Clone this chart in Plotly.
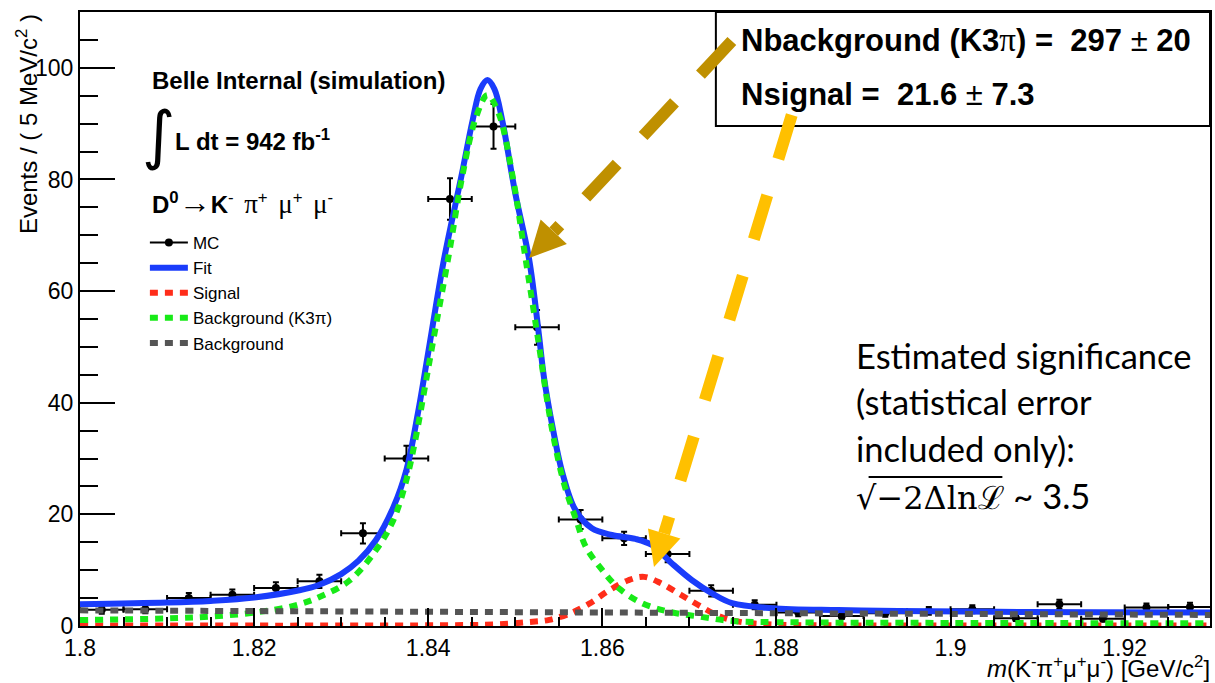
import math
import plotly.graph_objects as go

# ---------------- data ----------------
mass_bins = [1.8025, 1.8075, 1.8125, 1.8175, 1.8225, 1.8275, 1.8325, 1.8375, 1.8425, 1.8475,
             1.8525, 1.8575, 1.8625, 1.8675, 1.8725, 1.8775, 1.8825, 1.8875, 1.8925, 1.8975,
             1.9025, 1.9075, 1.9125, 1.9175, 1.9225, 1.9275]
mc_events = [2.9, 3.0, 5.0, 5.6, 6.8, 8.0, 16.6, 30.0, 76.5, 89.5,
             53.5, 19.1, 15.7, 12.9, 6.3, 3.8, 2.4, 1.8, 2.3, 2.7,
             3.0, 1.4, 3.9, 1.3, 3.3, 3.4]
mc_errors = [0.7, 0.7, 0.9, 0.95, 1.05, 1.2, 1.8, 2.3, 3.7, 4.0,
             3.1, 1.7, 1.2, 1.5, 1.0, 0.8, 0.65, 0.55, 0.65, 0.7,
             0.7, 0.5, 0.8, 0.5, 0.75, 0.75]
bin_half_width = 0.0025

fit_x = [1.800, 1.810, 1.815, 1.820, 1.8252, 1.8275, 1.8300, 1.8320, 1.8340, 1.8360, 1.8375, 1.8388,
         1.8400, 1.8418, 1.8438, 1.8451, 1.8460, 1.8468, 1.8476, 1.8485, 1.8500, 1.8516, 1.8527,
         1.8533, 1.8543, 1.8554, 1.8569, 1.8588, 1.8611, 1.8638, 1.8657, 1.8680, 1.8703, 1.8726,
         1.8749, 1.8795, 1.8871, 1.8940, 1.9054, 1.9169, 1.9300]
fit_y = [3.9, 4.2, 4.5, 5.1, 6.4, 7.4, 9.3, 11.7, 15.4, 21.3, 28.0, 38.0,
         49.0, 65.6, 80.5, 90.6, 96.2, 97.8, 96.2, 90.6, 77.5, 65.6, 52.4,
         44.5, 35.5, 27.5, 20.8, 17.5, 16.3, 15.6, 14.5, 11.2, 8.2, 5.85,
         4.1, 3.2, 2.85, 2.7, 2.55, 2.45, 2.4]

sig_x = [1.800, 1.840, 1.848, 1.8515, 1.8539, 1.8562, 1.8585, 1.8608, 1.8630, 1.8648, 1.8668,
         1.8690, 1.8712, 1.8735, 1.8760, 1.8800, 1.8900, 1.9300]
sig_y = [0.1, 0.12, 0.3, 0.7, 1.1, 2.2, 4.0, 6.4, 8.2, 8.8, 7.6,
         5.6, 3.6, 1.7, 0.7, 0.25, 0.1, 0.1]

k3pi_x = [1.800, 1.810, 1.815, 1.820, 1.8245, 1.8275, 1.8310, 1.8340, 1.8360, 1.8375, 1.8386, 1.8397,
          1.8405, 1.8424, 1.8439, 1.8455, 1.8468, 1.8481, 1.8497, 1.8512, 1.8527, 1.8537, 1.8545,
          1.8556, 1.8570, 1.8581, 1.8600, 1.8619, 1.8646, 1.8676, 1.8712, 1.8749, 1.8825, 1.9000, 1.9300]
k3pi_y = [1.07, 1.35, 1.7, 2.4, 3.6, 5.2, 8.2, 13.6, 19.0, 26.2, 34.0, 43.5,
          50.5, 66.8, 80.5, 91.2, 95.1, 91.8, 80.5, 65.6, 50.5, 40.0, 33.0,
          25.5, 19.0, 14.2, 10.0, 6.75, 4.07, 2.57, 1.67, 0.9, 0.66, 0.55, 0.5]

bkg_x = [1.800, 1.835, 1.871, 1.930]
bkg_y = [2.8, 2.58, 2.35, 1.98]

x_ticks = [1.80, 1.82, 1.84, 1.86, 1.88, 1.90, 1.92]
x_tick_text = ["1.8", "1.82", "1.84", "1.86", "1.88", "1.9", "1.92"]
y_ticks = [0, 20, 40, 60, 80, 100]

# ---------------- layout geometry ----------------
W, H = 1215, 683
ML, MR, MT, MB = 80, 3, 12, 57
PW, PH = W - ML - MR, H - MT - MB


def px(xp):
    return (xp - ML) / PW


def py(yp):
    return (H - MB - yp) / PH


SANS = "Liberation Sans, Arial, Helvetica, sans-serif"
BLUE = "#1a3cfb"
RED = "#ff2d1a"
GREEN = "#18ea18"
GREY = "#555555"

fig = go.Figure()

fig.add_trace(go.Scatter(
    x=mass_bins, y=mc_events, mode="markers", showlegend=False,
    marker=dict(color="black", size=8),
    error_y=dict(type="data", array=mc_errors, color="black", thickness=2, width=3),
    error_x=dict(type="constant", value=bin_half_width, color="black", thickness=2, width=3),
))
fig.add_trace(go.Scatter(
    x=[None], y=[None], mode="lines+markers", name="MC",
    line=dict(color="black", width=2), marker=dict(color="black", size=8),
))
fig.add_trace(go.Scatter(x=fit_x, y=fit_y, mode="lines", name="Fit",
                         line=dict(color=BLUE, width=6, shape="spline")))
fig.add_trace(go.Scatter(x=sig_x, y=sig_y, mode="lines", name="Signal",
                         line=dict(color=RED, width=6, dash="8px,7px", shape="spline")))
fig.add_trace(go.Scatter(x=k3pi_x, y=k3pi_y, mode="lines", name="Background (K3π)",
                         line=dict(color=GREEN, width=6, dash="8px,7px", shape="spline")))
fig.add_trace(go.Scatter(x=bkg_x, y=bkg_y, mode="lines", name="Background",
                         line=dict(color=GREY, width=6, dash="8px,7px", shape="spline")))

axis_common = dict(showline=True, linewidth=2, linecolor="black", mirror=True,
                   ticks="inside", tickwidth=2, tickcolor="black", showgrid=False,
                   zeroline=False, tickfont=dict(family=SANS, size=23, color="black"))

fig.update_xaxes(range=[1.8, 1.9298], tickvals=x_ticks, ticktext=x_tick_text, ticklen=18,
                 minor=dict(ticks="inside", ticklen=9, tickwidth=2, tickcolor="black",
                            dtick=0.005, tick0=1.8, showgrid=False),
                 **axis_common)
fig.update_yaxes(range=[0, 110], tickvals=y_ticks, ticklen=35,
                 minor=dict(ticks="inside", ticklen=18, tickwidth=2, tickcolor="black",
                            dtick=5, tick0=0, showgrid=False),
                 **axis_common)

shapes = []
# result box
shapes.append(dict(type="rect", xref="paper", yref="paper", x0=px(717), x1=px(1212), y0=py(126), y1=py(12),
                   line=dict(color="black", width=2), fillcolor="white", layer="above"))


def arrow(x0, y0, tip_x, tip_y, color, head_len=36, head_half=18):
    dx, dy = tip_x - x0, tip_y - y0
    L = math.hypot(dx, dy)
    ux, uy = dx / L, dy / L
    bx, by = tip_x - head_len * ux, tip_y - head_len * uy
    nx, ny = -uy, ux
    out = [dict(type="line", xref="paper", yref="paper", x0=px(x0), y0=py(y0), x1=px(bx), y1=py(by),
                line=dict(color=color, width=12, dash="46px,38px"), layer="above")]
    c1 = (bx + head_half * nx, by + head_half * ny)
    c2 = (bx - head_half * nx, by - head_half * ny)
    path = "M {} {} L {} {} L {} {} Z".format(px(tip_x), py(tip_y), px(c1[0]), py(c1[1]), px(c2[0]), py(c2[1]))
    out.append(dict(type="path", xref="paper", yref="paper", path=path, fillcolor=color,
                    line=dict(color=color, width=0), layer="above"))
    return out


shapes += arrow(733, 41, 530, 258, "#bf9000")
shapes += arrow(793, 115, 655, 567, "#ffc000", head_len=35, head_half=17)
# radical overline
shapes.append(dict(type="line", xref="paper", yref="paper", x0=px(870), x1=px(1004), y0=py(477), y1=py(477),
                   line=dict(color="black", width=2), layer="above"))

ann = []


def text(t, x, y, size, family=SANS, xanchor="left", yanchor="middle", angle=0):
    ann.append(dict(text=t, xref="paper", yref="paper", x=px(x), y=py(y), xanchor=xanchor, yanchor=yanchor,
                    showarrow=False, textangle=angle, font=dict(family=family, size=size, color="black")))


GAP = "<span style=\"font-size:14px\"> </span> "
text("<b>D<sup>0</sup></b><span style=\"font-size:32px\">→</span><b>K</b><sup>-</sup>" + GAP +
     "<span style=\"font-family:Liberation Serif;font-size:27px\">π</span><sup>+</sup>" + GAP +
     "<span style=\"font-family:Liberation Serif;font-size:27px\">μ</span><sup>+</sup>" + GAP +
     "<span style=\"font-family:Liberation Serif;font-size:27px\">μ</span><sup>-</sup>",
     150, 202, 24)
text("<b>Belle Internal (simulation)</b>", 150, 80, 24)
text("∫", 159, 135, 64, family="DejaVu Sans", xanchor="center")
text("<b>L dt = 942 fb</b><sup><b>-1</b></sup>", 173, 140, 24)
text("<b>Nbackground (K3</b><span style=\"font-family:Liberation Serif;font-size:33px\">π</span>"
     "<b>) =  297 </b>± <b>20</b>", 740, 40, 31)
text("<b>Nsignal =  21.6 </b>± <b>7.3</b>", 740, 95, 31)

LATO = "Lato, Open Sans, sans-serif"
text("Estimated significance", 855, 355, 34.5, family=LATO)
text("(statistical error", 855, 401, 34.5, family=LATO)
text("included only):", 855, 448, 34.5, family=LATO)
text('<span style="font-family:DejaVu Serif;font-size:32px">√−2Δlnℒ</span> ~ 3.5', 855, 496, 34.5,
     family=LATO)

text("Events / ( 5 MeV/c<sup>2</sup> )", 27, 12, 24, xanchor="center", yanchor="top", angle=-90)
text("<i>m</i>(K<sup>-</sup>π<sup>+</sup>μ<sup>+</sup>μ<sup>-</sup>) [GeV/c<sup>2</sup>]", 1214, 667, 24,
     xanchor="right")

fig.update_layout(
    width=W, height=H, margin=dict(l=ML, r=MR, t=MT, b=MB),
    plot_bgcolor="white", paper_bgcolor="white",
    font=dict(family=SANS, color="black"),
    shapes=shapes, annotations=ann,
    legend=dict(x=px(145), y=py(225), xanchor="left", yanchor="top", bgcolor="rgba(0,0,0,0)",
                font=dict(family=SANS, size=17, color="black"), tracegroupgap=0, itemwidth=38),
)

fig.write_html("out.html")
